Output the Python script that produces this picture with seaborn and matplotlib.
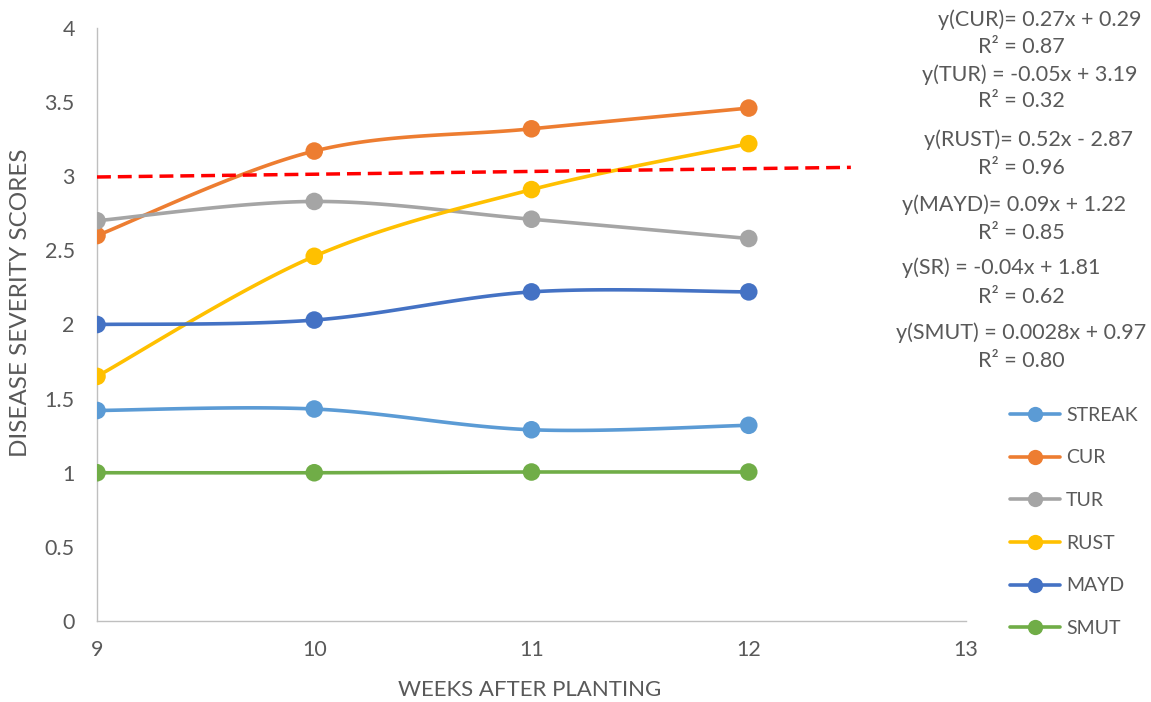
import numpy as np
import pandas as pd
import matplotlib
matplotlib.use("Agg")
import matplotlib.pyplot as plt
import seaborn as sns
from matplotlib.lines import Line2D

weeks = [9, 10, 11, 12]
series_names = ["STREAK", "CUR", "TUR", "RUST", "MAYD", "SMUT"]
streak = [1.42, 1.43, 1.29, 1.32]
cur = [2.60, 3.17, 3.32, 3.46]
tur = [2.70, 2.83, 2.71, 2.58]
rust = [1.65, 2.46, 2.91, 3.22]
mayd = [2.00, 2.03, 2.22, 2.22]
smut = [1.00, 1.00, 1.005, 1.005]
colors = ["#5B9BD5", "#ED7D31", "#A5A5A5", "#FFC000", "#4472C4", "#70AD47"]

threshold_x = [9, 12.47]
threshold_y = [2.995, 3.06]

equations = [
    ("y(CUR)= 0.27x + 0.29", 1040, 20),
    ("R² = 0.87", 1021, 47),
    ("y(TUR) = -0.05x + 3.19", 1030, 75),
    ("R² = 0.32", 1021, 101),
    ("y(RUST)= 0.52x - 2.87", 1028, 140),
    ("R² = 0.96", 1021, 168),
    ("y(MAYD)= 0.09x + 1.22", 1014, 205),
    ("R² = 0.85", 1021, 233),
    ("y(SR) = -0.04x + 1.81", 1001, 268),
    ("R² = 0.62", 1021, 297),
    ("y(SMUT) = 0.0028x + 0.97", 1021, 333),
    ("R² = 0.80", 1021, 361),
]

values = [streak, cur, tur, rust, mayd, smut]

sns.set_theme(style="white")
plt.rcParams["font.family"] = ["Lato", "DejaVu Sans"]
TXT = "#595959"

W, H = 1151, 702
fig = plt.figure(figsize=(W / 100, H / 100), dpi=100)
ax = fig.add_axes([97 / W, 1 - 621 / H, (966 - 97) / W, (621 - 28) / H])


def smooth(x, y, n=40):
    # Excel-style smoothed line: cubic Bezier with Catmull-Rom control points
    x = np.asarray(x, float)
    y = np.asarray(y, float)
    px = np.concatenate([[x[0]], x, [x[-1]]])
    py = np.concatenate([[y[0]], y, [y[-1]]])
    xs, ys = [], []
    t = np.linspace(0, 1, n)
    for i in range(1, len(px) - 2):
        p0 = np.array([px[i], py[i]])
        p3 = np.array([px[i + 1], py[i + 1]])
        p1 = p0 + (np.array([px[i + 1], py[i + 1]]) - np.array([px[i - 1], py[i - 1]])) / 6
        p2 = p3 - (np.array([px[i + 2], py[i + 2]]) - np.array([px[i], py[i]])) / 6
        b = ((1 - t) ** 3)[:, None] * p0 + (3 * (1 - t) ** 2 * t)[:, None] * p1 \
            + (3 * (1 - t) * t ** 2)[:, None] * p2 + (t ** 3)[:, None] * p3
        xs.extend(b[:, 0])
        ys.extend(b[:, 1])
    return np.array(xs), np.array(ys)


rows = []
for name, vals in zip(series_names, values):
    for w, v in zip(weeks, vals):
        rows.append({"week": w, "score": v, "series": name})
df = pd.DataFrame(rows)

palette = dict(zip(series_names, colors))
for name, vals in zip(series_names, values):
    sx, sy = smooth(weeks, vals)
    sdf = pd.DataFrame({"week": sx, "score": sy})
    sns.lineplot(data=sdf, x="week", y="score", color=palette[name], lw=2.6,
                 ax=ax, sort=False, estimator=None, legend=False)
sns.scatterplot(data=df, x="week", y="score", hue="series", palette=palette,
                s=160, edgecolor="none", ax=ax, legend=False, zorder=5)

ax.plot(threshold_x, threshold_y, color="#FF0000", lw=2.5, ls=(0, (4, 2)), zorder=6)

ax.set_xlim(9, 13)
ax.set_ylim(0, 4)
ax.set_xticks([9, 10, 11, 12, 13])
ax.set_yticks([0, 0.5, 1, 1.5, 2, 2.5, 3, 3.5, 4])
ax.set_yticklabels(["0", "0.5", "1", "1.5", "2", "2.5", "3", "3.5", "4"])
ax.tick_params(axis="both", colors=TXT, labelsize=15.5, length=0)
ax.tick_params(axis="x", pad=14)
ax.tick_params(axis="y", pad=16)
ax.set_xlabel("")
ax.set_ylabel("")
for s in ["top", "right"]:
    ax.spines[s].set_visible(False)
for s in ["left", "bottom"]:
    ax.spines[s].set_color("#BFBFBF")
    ax.spines[s].set_linewidth(1)
ax.set_clip_on(False)

fig.text(530 / W, 1 - 690 / H, "WEEKS AFTER PLANTING", ha="center", va="center",
         color=TXT, fontsize=16)
fig.text(21 / W, 1 - 303 / H, "DISEASE SEVERITY SCORES", ha="center", va="center",
         rotation=90, color=TXT, fontsize=17.5)

for txt, x, y in equations:
    fig.text(x / W, 1 - y / H, txt, ha="center", va="center", color=TXT, fontsize=15.5)

handles = [Line2D([0], [0], color=c, lw=2.6, marker="o", markersize=11,
                  markeredgewidth=0) for c in colors]
leg = fig.legend(handles, series_names, loc="upper left",
                 bbox_to_anchor=(1000 / W, 1 - 397 / H), frameon=False,
                 fontsize=14, labelspacing=1.32, handlelength=2.6, handletextpad=0.3,
                 borderpad=0)
for t in leg.get_texts():
    t.set_color(TXT)

fig.savefig("out.png", dpi=100)
